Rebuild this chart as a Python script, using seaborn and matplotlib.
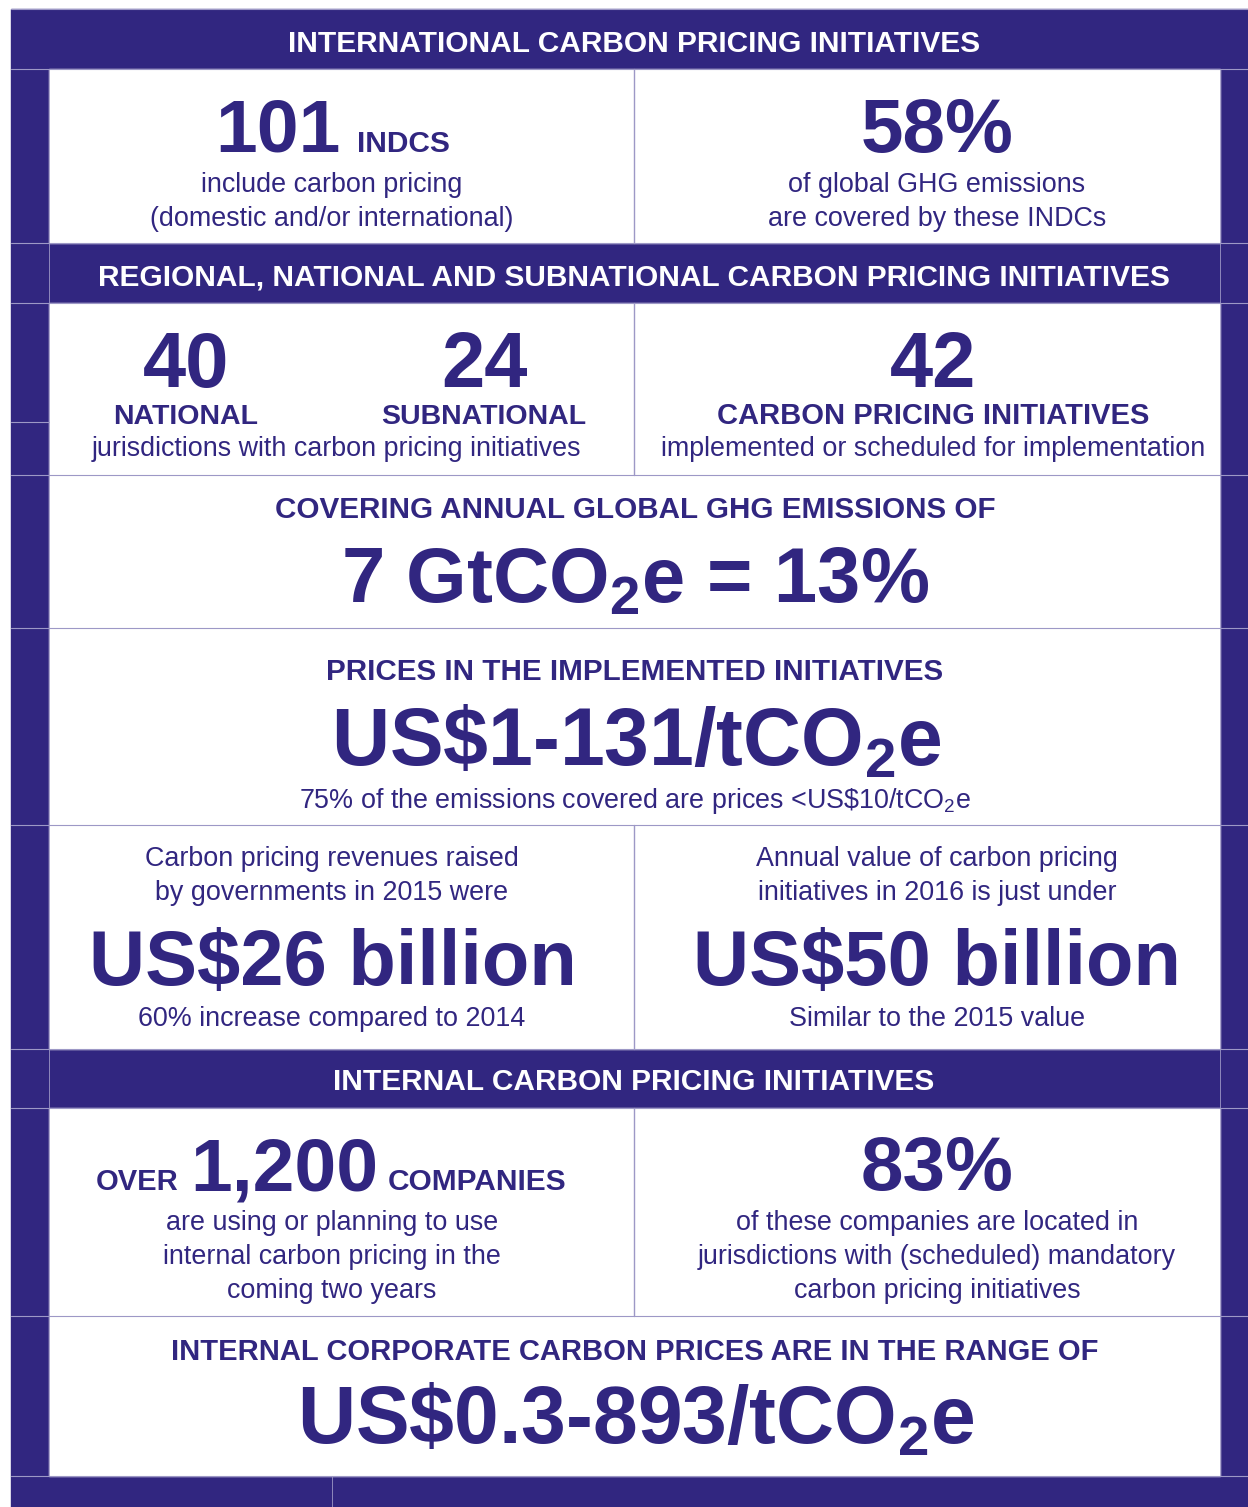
import matplotlib.pyplot as plt
import seaborn as sns
from matplotlib.patches import Rectangle

# -----------------------------
# content of the infographic
# -----------------------------
headers = [
    "INTERNATIONAL CARBON PRICING INITIATIVES",
    "REGIONAL, NATIONAL AND SUBNATIONAL CARBON PRICING INITIATIVES",
    "INTERNAL CARBON PRICING INITIATIVES",
]
indc_count = "101"
indc_share = "58%"
indc_left_lines = ["include carbon pricing", "(domestic and/or international)"]
indc_right_lines = ["of global GHG emissions", "are covered by these INDCs"]

national, subnational, initiatives = "40", "24", "42"
juris_line = "jurisdictions with carbon pricing initiatives"
init_line = "implemented or scheduled for implementation"

coverage_title = "COVERING ANNUAL GLOBAL GHG EMISSIONS OF"
coverage_value = r"7 GtCO$_2$e = 13%"
price_title = "PRICES IN THE IMPLEMENTED INITIATIVES"
price_value = r"US\$1-131/tCO$_2$e"
price_note = r"75% of the emissions covered are prices <US\$10/tCO$_2$e"

revenue_lines = ["Carbon pricing revenues raised", "by governments in 2015 were"]
revenue_value = "US$26 billion"
revenue_note = "60% increase compared to 2014"
value_lines = ["Annual value of carbon pricing", "initiatives in 2016 is just under"]
value_value = "US$50 billion"
value_note = "Similar to the 2015 value"

companies = "1,200"
companies_lines = ["are using or planning to use", "internal carbon pricing in the", "coming two years"]
companies_share = "83%"
share_lines = ["of these companies are located in", "jurisdictions with (scheduled) mandatory",
               "carbon pricing initiatives"]
corp_title = "INTERNAL CORPORATE CARBON PRICES ARE IN THE RANGE OF"
corp_value = r"US\$0.3-893/tCO$_2$e"

# -----------------------------
# style
# -----------------------------
sns.set_style("white")
plt.rcParams["font.family"] = ["Liberation Sans", "DejaVu Sans"]
plt.rcParams["mathtext.default"] = "regular"

navy = "#312680"
line_col = "#9d98c6"

fig = plt.figure(figsize=(12.48, 15.07), dpi=100)
ax = fig.add_axes([0, 0, 1, 1])
ax.set_xlim(0, 1248)
ax.set_ylim(1507, 0)
ax.axis("off")

# frame and white panels
ax.add_patch(Rectangle((11, 9), 1237, 1498, color=navy, zorder=0))
panels = [(69, 243), (303, 475), (475, 628), (628, 825), (825, 1049), (1108, 1316), (1316, 1476)]
for top, bottom in panels:
    ax.add_patch(Rectangle((49, top), 1171, bottom - top, color="white", zorder=1))

for y in [9, 69, 243, 303, 475, 628, 825, 1049, 1108, 1316, 1476]:
    ax.plot([11, 1248], [y, y], color=line_col, lw=0.8, zorder=2)
ax.plot([11, 49], [422, 422], color=line_col, lw=0.8, zorder=2)
for top, bottom in [(69, 243), (303, 475), (825, 1049), (1108, 1316)]:
    ax.plot([634, 634], [top, bottom], color=line_col, lw=1.0, zorder=2)
ax.plot([1220, 1220], [69, 1476], color=line_col, lw=0.6, zorder=2)
ax.plot([49, 49], [69, 1476], color=line_col, lw=0.6, zorder=2)
ax.plot([332, 332], [1476, 1507], color=line_col, lw=0.6, zorder=2)

def txt(x, y, s, size, bold=False, color=navy, ha="center", va="center"):
    # centred lines sit a touch low in the original
    if va == "center":
        y += 2.5
    ax.text(x, y, s, fontsize=size, fontweight="bold" if bold else "normal",
            color=color, ha=ha, va=va, zorder=3)

# headers
for s, y in zip(headers, [41, 275, 1080]):
    txt(634, y, s, 21.5, bold=True, color="white")

body = 19.4
big = 56

# INDCs
txt(215, 152, indc_count, 54, bold=True, ha="left", va="baseline")
txt(357, 152, "INDCS", 21.5, bold=True, ha="left", va="baseline")
for i, s in enumerate(indc_left_lines):
    txt(332, 182 + 34 * i, s, body)
txt(937, 152, indc_share, 55, bold=True, va="baseline")
for i, s in enumerate(indc_right_lines):
    txt(937, 182 + 34 * i, s, body)

# jurisdictions
txt(186, 387, national, 56, bold=True, va="baseline")
txt(484, 387, subnational, 56, bold=True, va="baseline")
txt(186, 424, "NATIONAL", 20.5, bold=True, va="baseline")
txt(484, 424, "SUBNATIONAL", 20.5, bold=True, va="baseline")
txt(336, 447, juris_line, body)
txt(933, 387, initiatives, 56, bold=True, va="baseline")
txt(933, 424, "CARBON PRICING INITIATIVES", 21, bold=True, va="baseline")
txt(933, 447, init_line, body)

# coverage
txt(635, 508, coverage_title, 21.3, bold=True)
txt(635, 603, coverage_value, big, bold=True, va="baseline")

# prices
txt(635, 670, price_title, 21.3, bold=True)
txt(636, 765, price_value, 58, bold=True, va="baseline")
txt(635, 798, price_note, body)

# revenues and value
for i, s in enumerate(revenue_lines):
    txt(332, 857 + 34 * i, s, body)
txt(333, 985, revenue_value, big, bold=True, va="baseline")
txt(332, 1016, revenue_note, body)
for i, s in enumerate(value_lines):
    txt(937, 857 + 34 * i, s, body)
txt(937, 985, value_value, big, bold=True, va="baseline")
txt(937, 1016, value_note, body)

# internal carbon pricing
txt(96, 1190, "OVER", 21, bold=True, ha="left", va="baseline")
txt(190, 1190, companies, 54, bold=True, ha="left", va="baseline")
txt(388, 1190, "COMPANIES", 21.5, bold=True, ha="left", va="baseline")
for i, s in enumerate(companies_lines):
    txt(332, 1221 + 34 * i, s, body)
txt(937, 1190, companies_share, 55, bold=True, va="baseline")
for i, s in enumerate(share_lines):
    txt(937, 1221 + 34 * i, s, body)

txt(635, 1349, corp_title, 21, bold=True)
txt(636, 1443, corp_value, 58, bold=True, va="baseline")

fig.savefig("out.png", dpi=100)
